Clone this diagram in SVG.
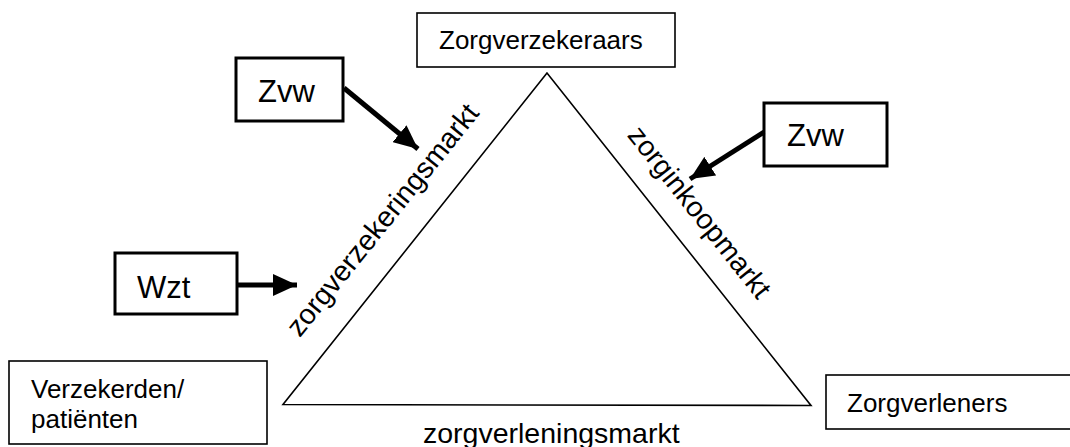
<svg xmlns="http://www.w3.org/2000/svg" width="1070" height="447" viewBox="0 0 1070 447">
<style>
.box{fill:#fff;stroke:#000;stroke-width:1.6}
.law{fill:#fff;stroke:#000;stroke-width:3}
.t{font-family:"Liberation Sans",Arial,sans-serif;font-size:26px;fill:#000}
.tl{font-family:"Liberation Sans",Arial,sans-serif;font-size:31px;fill:#000}
.lab{font-family:"Liberation Sans",Arial,sans-serif;font-size:28.5px;fill:#000}
.arr{stroke:#000;stroke-width:5;fill:none}
</style>
<defs>
<marker id="ah" markerUnits="userSpaceOnUse" markerWidth="24" markerHeight="22" viewBox="0 0 24 22" refX="24" refY="11" orient="auto">
<path d="M0,0 L24,11 L0,22 Z" fill="#000"/>
</marker>
</defs>
<g id="triangle">
<path d="M547,73 L283,404.5 L811,405.5 Z" fill="none" stroke="#000" stroke-width="1.6" stroke-linejoin="miter"/>
</g>
<g id="zorgverzekeraars">
<rect class="box" x="417" y="13" width="258" height="54"/>
<text class="t" x="439" y="49">Zorgverzekeraars</text>
</g>
<g id="verzekerden">
<rect class="box" x="9" y="361" width="258" height="83"/>
<text class="t" x="31" y="398">Verzekerden/</text>
<text class="t" x="31" y="428">patiënten</text>
</g>
<g id="zorgverleners">
<rect class="box" x="826" y="375" width="260" height="54"/>
<text class="t" x="847" y="412">Zorgverleners</text>
</g>
<g id="zvw1">
<rect class="law" x="236" y="58" width="107" height="63"/>
<text class="tl" x="258" y="102">Zvw</text>
</g>
<g id="zvw2">
<rect class="law" x="764" y="103" width="123" height="63"/>
<text class="tl" x="787" y="146">Zvw</text>
</g>
<g id="wzt">
<rect class="law" x="115" y="253" width="122" height="61"/>
<text class="tl" x="137" y="298">Wzt</text>
</g>
<g id="labels">
<text class="lab" text-anchor="middle" transform="translate(390,226) rotate(-51.2)">zorgverzekeringsmarkt</text>
<text class="lab" text-anchor="middle" transform="translate(692,218) rotate(51.5)">zorginkoopmarkt</text>
<text class="lab" x="423" y="443">zorgverleningsmarkt</text>
</g>
<g id="connectors">
<line class="arr" x1="344" y1="88" x2="418" y2="149" marker-end="url(#ah)"/>
<line class="arr" x1="238" y1="285" x2="297" y2="285" marker-end="url(#ah)"/>
<line class="arr" x1="764" y1="132" x2="690" y2="179" marker-end="url(#ah)"/>
</g>
</svg>
